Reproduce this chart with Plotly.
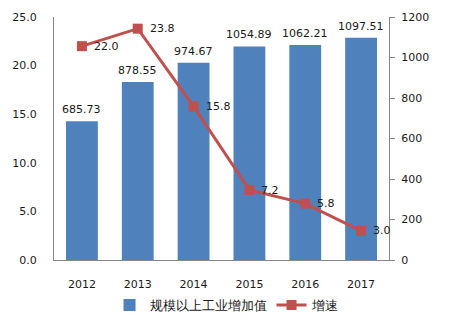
import plotly.graph_objects as go

years = ["2012", "2013", "2014", "2015", "2016", "2017"]
added_value = [685.73, 878.55, 974.67, 1054.89, 1062.21, 1097.51]
growth = [22.0, 23.8, 15.8, 7.2, 5.8, 3.0]
bar_labels = ["685.73", "878.55", "974.67", "1054.89", "1062.21", "1097.51"]
line_labels = ["22.0", "23.8", "15.8", "7.2", "5.8", "3.0"]

FONT = "DejaVu Sans"
TXT = "#1a1a1a"

fig = go.Figure()
fig.add_trace(go.Bar(
    x=years, y=added_value, name="规模以上工业增加值",
    marker=dict(color="#4F81BD", line=dict(width=0)),
    width=0.57, yaxis="y",
))
fig.add_trace(go.Scatter(
    x=years, y=growth, name="增速", mode="lines+markers",
    line=dict(color="#C0504D", width=3),
    marker=dict(symbol="square", size=10, color="#C0504D"),
    yaxis="y2",
))

annotations = []
for i, (v, t) in enumerate(zip(added_value, bar_labels)):
    annotations.append(dict(x=i, y=v, yref="y", xref="x", text=t, showarrow=False,
                            yanchor="bottom", yshift=3,
                            font=dict(family=FONT, size=11, color=TXT)))
for i, (v, t) in enumerate(zip(growth, line_labels)):
    annotations.append(dict(x=i, y=v, yref="y2", xref="x", text=t, showarrow=False,
                            xanchor="left", xshift=10, yshift=0,
                            font=dict(family=FONT, size=11, color=TXT)))

fig.update_layout(
    width=459, height=327,
    margin=dict(l=54, r=70, t=17, b=67, autoexpand=False),
    paper_bgcolor="white", plot_bgcolor="white",
    font=dict(family=FONT, size=11, color=TXT),
    showlegend=True,
    legend=dict(orientation="h", x=0.515, xanchor="center", y=-0.185, yanchor="middle",
                font=dict(family=FONT, size=13, color=TXT), itemwidth=30,
                traceorder="normal", tracegroupgap=0),
    xaxis=dict(type="category", range=[-0.5, len(years) - 0.5], autorange=False,
               showline=True, linecolor="#868686", linewidth=1, ticks="", automargin=False,
               showgrid=False, tickfont=dict(size=11), ticklabelstandoff=14),
    yaxis=dict(side="right", range=[0, 1200], dtick=200, showgrid=False, automargin=False,
               showline=True, linecolor="#868686", linewidth=1,
               ticks="outside", ticklen=5, tickcolor="#868686",
               tickfont=dict(size=11), zeroline=False, ticklabelstandoff=4),
    yaxis2=dict(side="left", overlaying="y", range=[0, 25], dtick=5, tickformat=".1f",
                showgrid=False, showline=True, linecolor="#868686", linewidth=1, automargin=False,
                ticks="", tickfont=dict(size=11), zeroline=False, ticklabelstandoff=14),
    annotations=annotations,
)

fig.write_html("out.html")
